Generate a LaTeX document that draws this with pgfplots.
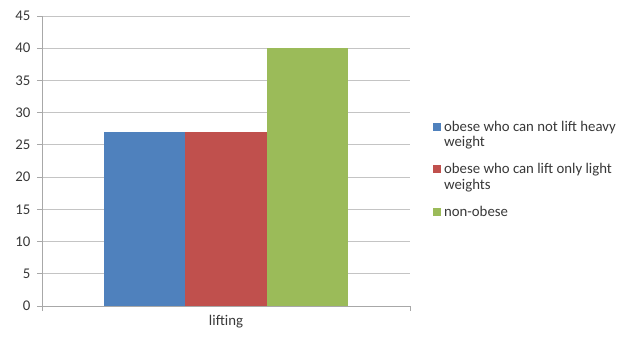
\documentclass[border=0pt]{standalone}
\usepackage{fontspec}
\setmainfont{Carlito}
\usepackage{pgfplots}
\pgfplotsset{compat=1.18}
\definecolor{xlblue}{HTML}{4F81BD}
\definecolor{xlred}{HTML}{C0504D}
\definecolor{xlgreen}{HTML}{9BBB59}
\definecolor{gridc}{HTML}{C4C4C4}
\definecolor{axisc}{HTML}{A8A8A8}
\definecolor{txtc}{HTML}{383838}
\newcommand{\legtxt}[1]{\parbox[t]{180bp}{\raggedright #1}}
\begin{document}
\begin{tikzpicture}
\useasboundingbox (0,0) rectangle (624bp,339bp);
\begin{axis}[
  at={(42bp,33bp)}, anchor=south west,
  scale only axis, width=368bp, height=290bp,
  ybar=0pt, bar width=81.5bp,
  xmin=-0.5, xmax=0.5, ymin=0, ymax=45,
  ytick={0,5,...,45},
  xtick={0}, xticklabels={lifting},
  xtick style={draw=none},
  extra x ticks={-0.5,0.5}, extra x tick labels={,},
  extra x tick style={xtick style={draw=axisc}, grid=none},
  axis x line*=bottom, axis y line*=left,
  axis line style={draw=axisc, line width=0.8bp},
  ymajorgrids, grid style={draw=gridc, line width=0.8bp},
  major tick length=5bp, tick align=outside,
  tick style={draw=axisc, line width=0.8bp},
  tick label style={font=\fontsize{14.8bp}{17bp}\selectfont, text=txtc},
  yticklabel style={xshift=-3bp},
  xticklabel style={yshift=-1bp},
  /pgf/number format/assume math mode=true,
  legend style={at={(axis description cs:1.054,0.655)}, anchor=north west,
    draw=none, fill=none, font=\fontsize{14.8bp}{15.5bp}\selectfont,
    text=txtc, row sep=8bp, column sep=1bp,
    cells={anchor=base west},
    nodes={text depth=19.5bp, text height=11bp}},
  legend image code/.code={\fill[#1] (0bp,0.5bp) rectangle (8bp,8.5bp);},
]
\addplot[fill=xlblue, draw=none] coordinates {(0,27)};
\addplot[fill=xlred, draw=none] coordinates {(0,27)};
\addplot[fill=xlgreen, draw=none] coordinates {(0,40)};
\legend{\legtxt{obese who can not lift heavy\\weight}, \legtxt{obese who can lift only light\\weights}, \legtxt{non-obese}}
\end{axis}
\end{tikzpicture}
\end{document}
